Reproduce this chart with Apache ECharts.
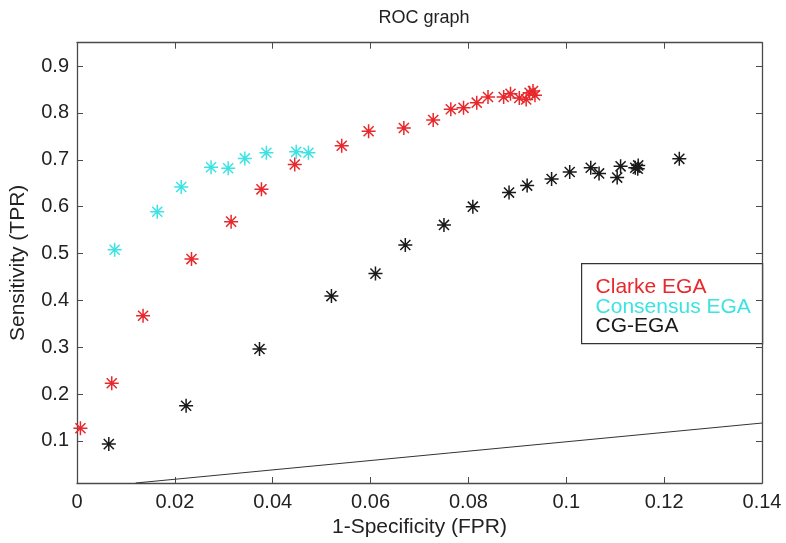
<!DOCTYPE html>
<html>
<head>
<meta charset="utf-8">
<script src="https://cdn.jsdelivr.net/npm/echarts@6/dist/echarts.min.js"></script>
<style>
html,body{margin:0;padding:0;background:#fff;}
#chart{width:786px;height:543px;}
</style>
</head>
<body>
<div id="chart"></div>
<script>
// ---- data ----
const clarkeFPR = [0.0007, 0.0071, 0.0135, 0.0234, 0.0315, 0.0377, 0.0445, 0.0541, 0.0596, 0.0668, 0.0728, 0.0764, 0.0790, 0.0817, 0.0840, 0.0872, 0.0886, 0.0904, 0.0918, 0.0925, 0.0932, 0.0936];
const clarkeTPR = [0.127, 0.223, 0.367, 0.488, 0.568, 0.637, 0.690, 0.730, 0.761, 0.768, 0.785, 0.808, 0.811, 0.822, 0.834, 0.834, 0.841, 0.832, 0.829, 0.843, 0.847, 0.838];
const consensusFPR = [0.0077, 0.0164, 0.0213, 0.0274, 0.0309, 0.0343, 0.0387, 0.0448, 0.0473];
const consensusTPR = [0.508, 0.589, 0.642, 0.684, 0.682, 0.703, 0.715, 0.717, 0.715];
const cgFPR = [0.0065, 0.0223, 0.0373, 0.0520, 0.0610, 0.0671, 0.0750, 0.0809, 0.0883, 0.0920, 0.0970, 0.1007, 0.1050, 0.1067, 0.1104, 0.1111, 0.1141, 0.1147, 0.1146, 0.1231];
const cgTPR = [0.093, 0.175, 0.296, 0.409, 0.457, 0.518, 0.561, 0.600, 0.630, 0.645, 0.659, 0.674, 0.683, 0.671, 0.662, 0.686, 0.683, 0.688, 0.681, 0.702];
const chanceFPR = [0.012, 0.14];
const chanceTPR = [0.01, 0.138];
const xTicks = [0, 0.02, 0.04, 0.06, 0.08, 0.1, 0.12, 0.14];
const yTicks = [0.1, 0.2, 0.3, 0.4, 0.5, 0.6, 0.7, 0.8, 0.9];
const seriesNames = ['Clarke EGA', 'Consensus EGA', 'CG-EGA'];
const seriesColors = ['#e8282c', '#3de3e3', '#1a1a1a'];

const pairs = (xs, ys) => xs.map((x, i) => [x, ys[i]]);
const STAR = 'path://M0,-1L0,1M-1,0L1,0M-0.72,-0.72L0.72,0.72M-0.72,0.72L0.72,-0.72';
const FONT = '"Liberation Sans", Arial, sans-serif';
const AXIS_COLOR = '#4a4a4a';

function starSeries(name, data, color) {
  return {
    type: 'scatter', name: name, data: data,
    symbol: STAR, symbolSize: 14,
    itemStyle: { color: 'none', borderColor: color, borderWidth: 1.5, opacity: 1 },
    z: 3
  };
}

const chart = echarts.init(document.getElementById('chart'), null, { renderer: 'canvas' });
const axisBase = {
  axisLine: { show: true, onZero: false, lineStyle: { color: AXIS_COLOR, width: 1.3 } },
  splitLine: { show: false }
};
chart.setOption({
  backgroundColor: '#ffffff',
  animation: false,
  title: {
    text: 'ROC graph', left: 419, top: 4, textAlign: 'center',
    textStyle: { fontFamily: FONT, fontSize: 18, fontWeight: 'normal', color: '#222' }
  },
  grid: { left: 76.5, right: 24, top: 42.7, bottom: 57.3, containLabel: false },
  xAxis: [
    Object.assign({}, axisBase, {
      type: 'value', min: 0, max: 0.14, interval: 0.02, position: 'bottom',
      name: '1-Specificity (FPR)', nameLocation: 'middle', nameGap: 34,
      nameTextStyle: { fontFamily: FONT, fontSize: 21, color: '#222' },
      axisTick: { show: true, inside: true, length: 6, lineStyle: { color: AXIS_COLOR } },
      axisLabel: { fontFamily: FONT, fontSize: 20, color: '#222', margin: 9,
        showMinLabel: true, showMaxLabel: true,
        formatter: v => { const t = xTicks.find(k => Math.abs(k - v) < 1e-9); return t === undefined ? '' : String(t); } }
    }),
    Object.assign({}, axisBase, {
      type: 'value', min: 0, max: 0.14, interval: 0.02, position: 'top',
      axisTick: { show: true, inside: true, length: 6, lineStyle: { color: AXIS_COLOR } },
      axisLabel: { show: false }
    })
  ],
  yAxis: [
    Object.assign({}, axisBase, {
      type: 'value', min: 0.01, max: 0.95, position: 'left',
      name: 'Sensitivity (TPR)', nameLocation: 'middle', nameGap: 48,
      nameTextStyle: { fontFamily: FONT, fontSize: 21, color: '#222' },
      axisTick: { show: true, inside: true, length: 6, customValues: yTicks, lineStyle: { color: AXIS_COLOR } },
      axisLabel: { fontFamily: FONT, fontSize: 20, color: '#222', margin: 8, customValues: yTicks,
        formatter: v => String(+v.toFixed(2)) }
    }),
    Object.assign({}, axisBase, {
      type: 'value', min: 0.01, max: 0.95, position: 'right',
      axisTick: { show: true, inside: true, length: 6, customValues: yTicks, lineStyle: { color: AXIS_COLOR } },
      axisLabel: { show: false }
    })
  ],
  series: [
    {
      type: 'line', name: 'chance', data: pairs(chanceFPR, chanceTPR),
      showSymbol: false, symbol: 'none', lineStyle: { color: '#333', width: 1 }, z: 2, silent: true
    },
    starSeries(seriesNames[0], pairs(clarkeFPR, clarkeTPR), seriesColors[0]),
    starSeries(seriesNames[1], pairs(consensusFPR, consensusTPR), seriesColors[1]),
    starSeries(seriesNames[2], pairs(cgFPR, cgTPR), seriesColors[2])
  ],
  graphic: [
    {
      type: 'group', left: 581, top: 263, children: [
        { type: 'rect', shape: { x: 0, y: 0, width: 181, height: 80 },
          style: { fill: '#fff', stroke: '#333', lineWidth: 1.2 } },
        { type: 'text', x: 14, y: 24, style: { text: seriesNames[0], fill: seriesColors[0], font: '21px ' + FONT, textVerticalAlign: 'middle' } },
        { type: 'text', x: 14, y: 43.5, style: { text: seriesNames[1], fill: seriesColors[1], font: '21px ' + FONT, textVerticalAlign: 'middle' } },
        { type: 'text', x: 14, y: 63, style: { text: seriesNames[2], fill: seriesColors[2], font: '21px ' + FONT, textVerticalAlign: 'middle' } }
      ]
    }
  ]
});
</script>
</body>
</html>
